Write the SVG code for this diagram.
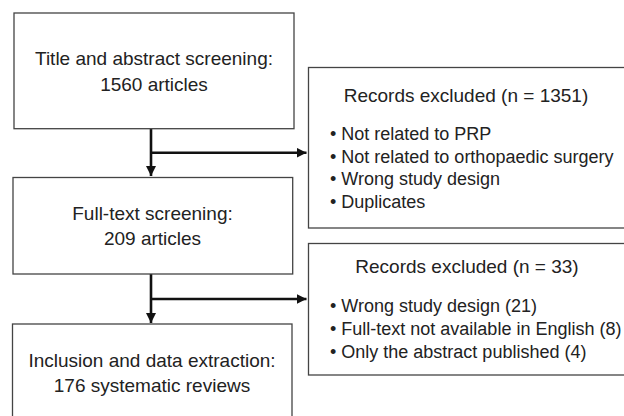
<svg xmlns="http://www.w3.org/2000/svg" width="624" height="416" viewBox="0 0 624 416">
<style>
.box{fill:#fff;stroke:#444;stroke-width:1.3}
.t{font-family:"Liberation Sans",Arial,sans-serif;font-size:19px;fill:#222}
.b{font-size:18px}
.c{text-anchor:middle}
.conn{stroke:#111;stroke-width:2.6;fill:none}
</style>
<defs>
<marker id="ah" viewBox="0 0 10 10" refX="10" refY="5" markerWidth="10" markerHeight="10" markerUnits="userSpaceOnUse" orient="auto">
<path d="M0,0 L10,5 L0,10 z" fill="#111"/>
</marker>
</defs>
<rect width="624" height="416" fill="#fff"/>
<g id="connectors">
<path class="conn" d="M151,129 V176" marker-end="url(#ah)"/>
<path class="conn" d="M151,152.7 H306.5" marker-end="url(#ah)"/>
<path class="conn" d="M151,274 V323" marker-end="url(#ah)"/>
<path class="conn" d="M151,299 H306.5" marker-end="url(#ah)"/>
</g>
<g id="n1">
<rect class="box" x="14" y="13" width="280" height="115.7"/>
<text class="t c" x="154" y="65">Title and abstract screening:</text>
<text class="t c" x="154" y="90.5">1560 articles</text>
</g>
<g id="n2">
<rect class="box" x="13" y="177.5" width="279.7" height="96.5"/>
<text class="t c" x="152.5" y="220">Full-text screening:</text>
<text class="t c" x="152.5" y="245">209 articles</text>
</g>
<g id="n3">
<rect class="box" x="12.5" y="324" width="279.5" height="110"/>
<text class="t c" x="152" y="366.5">Inclusion and data extraction:</text>
<text class="t c" x="152" y="391.5">176 systematic reviews</text>
</g>
<g id="n4">
<rect class="box" x="308.5" y="67.5" width="330" height="160.5"/>
<text class="t c" x="466" y="101.5">Records excluded (n = 1351)</text>
<text class="t b" x="330" y="140">• Not related to PRP</text>
<text class="t b" x="330" y="162.7">• Not related to orthopaedic surgery</text>
<text class="t b" x="330" y="185.3">• Wrong study design</text>
<text class="t b" x="330" y="208">• Duplicates</text>
</g>
<g id="n5">
<rect class="box" x="308.5" y="243.5" width="330" height="131.5"/>
<text class="t c" x="467" y="273">Records excluded (n = 33)</text>
<text class="t b" x="330" y="311.5">• Wrong study design (21)</text>
<text class="t b" x="330" y="334.7">• Full-text not available in English (8)</text>
<text class="t b" x="330" y="358">• Only the abstract published (4)</text>
</g>
</svg>
